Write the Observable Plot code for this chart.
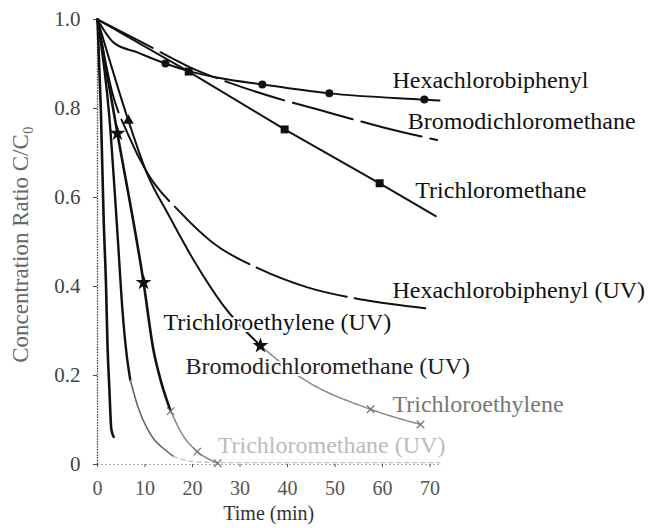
<!DOCTYPE html>
<html><head><meta charset="utf-8">
<script src="https://cdn.jsdelivr.net/npm/d3@7"></script>
<script src="https://cdn.jsdelivr.net/npm/@observablehq/plot@0.6"></script>
<style>
body{margin:0;background:#fff}
svg{display:block}
</style>
</head><body><div id="chart"></div>
<script>
// ---- data (time in min, concentration ratio C/C0) ----
const xTicks = [0, 10, 20, 30, 40, 50, 60, 70];
const yTicks = [0, 0.2, 0.4, 0.6, 0.8, 1.0];
const yTickLabels = ["0", "0.2", "0.4", "0.6", "0.8", "1.0"];

const hexachlorobiphenyl = [[0,1],[3.4,0.948],[8.4,0.926],[14.3,0.901],[19.2,0.884],[26,0.868],[34.7,0.854],[48.8,0.834],[68.8,0.82],[72,0.818]];
const hexaMarkers = [[14.3,0.901],[34.7,0.854],[48.8,0.834],[68.8,0.82]];

const bromodichloromethane = [[0,1],[10,0.945],[19.6,0.892],[28,0.857],[37.8,0.823],[47,0.796],[52,0.781],[60,0.758],[71.5,0.729]];

const trichloromethane = [[0,1],[19.2,0.883],[39.4,0.753],[59.4,0.632],[71.2,0.558]];
const tcmMarkers = [[19.2,0.883],[39.4,0.753],[59.4,0.632]];

const hexachlorobiphenylUV = [[0,1],[3,0.84],[6.5,0.74],[10.5,0.655],[17.5,0.566],[24.2,0.499],[34,0.44],[44.2,0.398],[56,0.37],[69,0.351]];

const trichloroethylene = [[0,1],[6.5,0.773],[10.5,0.652],[15,0.56],[20.2,0.46],[26.5,0.357],[34.3,0.267],[43.2,0.193],[57.5,0.124],[68,0.09]];
const tceTriangles = [[6.5,0.773]];
const tceStars = [[34.3,0.267]];
const tceCrosses = [[57.5,0.124],[68,0.09]];

const trichloroethyleneUV = [[0,1],[0.7,0.8],[1.3,0.55],[1.8,0.4],[2.1,0.27],[2.5,0.17],[2.9,0.08],[3.4,0.062]];

const bromodichloromethaneUV = [[0,1],[4.2,0.744],[9.7,0.409],[11.8,0.256],[13.3,0.189],[15.4,0.12],[18,0.065],[21,0.029],[25.3,0.003]];
const bdcmUVStars = [[4.2,0.744],[9.7,0.409]];
const bdcmUVCrosses = [[15.4,0.12],[21,0.029],[25.3,0.003]];

const trichloromethaneUV = [[0,1],[2.5,0.78],[4.2,0.52],[5.3,0.34],[6.1,0.25],[6.9,0.19],[8.5,0.13],[10.5,0.08],[12,0.055],[13.9,0.036],[16,0.018],[20.6,0.006],[30,0.004],[50,0.004],[72,0.004]];

const labelNames = ["Hexachlorobiphenyl","Bromodichloromethane","Trichloromethane","Hexachlorobiphenyl (UV)","Trichloroethylene (UV)","Bromodichloromethane (UV)","Trichloroethylene","Trichloromethane (UV)"];
const labelT = [62.1, 65.3, 66.9, 62.1, 13.9, 18.5, 62.1, 25.3];
const labelC = [0.863, 0.771, 0.616, 0.391, 0.319, 0.22, 0.135, 0.043];
const labelColors = ["#111","#111","#111","#111","#111","#222","#777","#bbb"];

// ---- helpers ----
const pts = a => a.map(([t, c]) => ({t, c}));
const labels = labelNames.map((name, i) => ({name, t: labelT[i], c: labelC[i], color: labelColors[i]}));
const serif = "Liberation Serif, Times New Roman, serif";
const ln = (data, o = {}) => Plot.line(pts(data), {x: "t", y: "c", stroke: "#111", strokeWidth: 2, curve: "monotone-x", ...o});
const part = (data, lo, hi) => data.filter(([t]) => t >= lo && t <= hi);

const chart = Plot.plot({
  width: 654,
  height: 528,
  marginLeft: 97,
  marginRight: 224.5,
  marginTop: 19,
  marginBottom: 64,
  style: {background: "#fff", fontFamily: serif},
  x: {domain: [0, 70], axis: null},
  y: {domain: [0, 1], axis: null},
  marks: [
    // axes
    Plot.ruleX([0], {y1: 0, y2: 1, stroke: "#444", strokeWidth: 1.3, strokeDasharray: "1.5,1.2"}),
    Plot.ruleY([0], {x1: 0, x2: 72.5, stroke: "#aaa", strokeWidth: 1.2, strokeDasharray: "2,2"}),
    Plot.axisX({ticks: xTicks, label: null, tickSize: 3, tickPadding: 13, fontSize: 20, fontFamily: serif, color: "#555", anchor: "bottom"}),
    Plot.axisY({ticks: yTicks, label: null, tickFormat: d => yTickLabels[yTicks.indexOf(d)], tickSize: 4, tickPadding: 13, fontSize: 21, fontFamily: serif, color: "#444", anchor: "left"}),
    // upper (non-UV) curves
    ln(hexachlorobiphenyl),
    ln(bromodichloromethane, {strokeDasharray: "62,9"}),
    ln(trichloromethane, {curve: "linear"}),
    Plot.dot(pts(hexaMarkers), {x: "t", y: "c", r: 4, fill: "#111"}),
    Plot.dot(pts(tcmMarkers), {x: "t", y: "c", symbol: "square", r: 4.5, fill: "#111"}),
    // lower curves
    ln(hexachlorobiphenylUV, {strokeDasharray: "95,8"}),
    ln(part(trichloroethylene, 0, 34.3)),
    ln(part(trichloroethylene, 34.3, 70), {stroke: "#888", strokeWidth: 1.5, strokeDasharray: "3,1"}),
    Plot.dot(pts(tceTriangles), {x: "t", y: "c", symbol: "triangle", r: 4, fill: "#111"}),
    Plot.dot(pts(tceStars), {x: "t", y: "c", symbol: "star", r: 5, fill: "#111"}),
    Plot.dot(pts(tceCrosses), {x: "t", y: "c", symbol: "times", r: 3.5, stroke: "#777", strokeWidth: 1.3}),
    ln(trichloroethyleneUV, {strokeWidth: 2.6}),
    ln(part(trichloromethaneUV, 0, 6.9), {strokeWidth: 2.4}),
    ln(part(trichloromethaneUV, 6.9, 16), {stroke: "#666", strokeWidth: 1.6}),
    ln(part(trichloromethaneUV, 16, 80), {stroke: "#bbb", strokeWidth: 1.3, strokeDasharray: "4,4"}),
    ln(part(bromodichloromethaneUV, 0, 15.4), {strokeWidth: 2.6}),
    ln(part(bromodichloromethaneUV, 15.4, 30), {stroke: "#888", strokeWidth: 1.5}),
    Plot.dot(pts(bdcmUVStars), {x: "t", y: "c", symbol: "star", r: 5, fill: "#111"}),
    Plot.dot(pts(bdcmUVCrosses), {x: "t", y: "c", symbol: "times", r: 3.5, stroke: "#777", strokeWidth: 1.3}),
    // labels
    Plot.text(labels, {x: "t", y: "c", text: "name", fill: "color", textAnchor: "start", fontSize: 24, fontFamily: serif, stroke: "white", strokeWidth: 4}),
    Plot.text(["Concentration Ratio C/C\u2080"], {frameAnchor: "left", textAnchor: "middle", dx: -77, dy: 2.5, rotate: -90, fontSize: 23, fontFamily: serif, fill: "#666"}),
    Plot.text(["Time (min)"], {frameAnchor: "bottom", textAnchor: "middle", dx: 5, dy: 55, fontSize: 20, fontFamily: serif, fill: "#333"})
  ]
});
document.getElementById("chart").appendChild(chart);
</script>
</body></html>
